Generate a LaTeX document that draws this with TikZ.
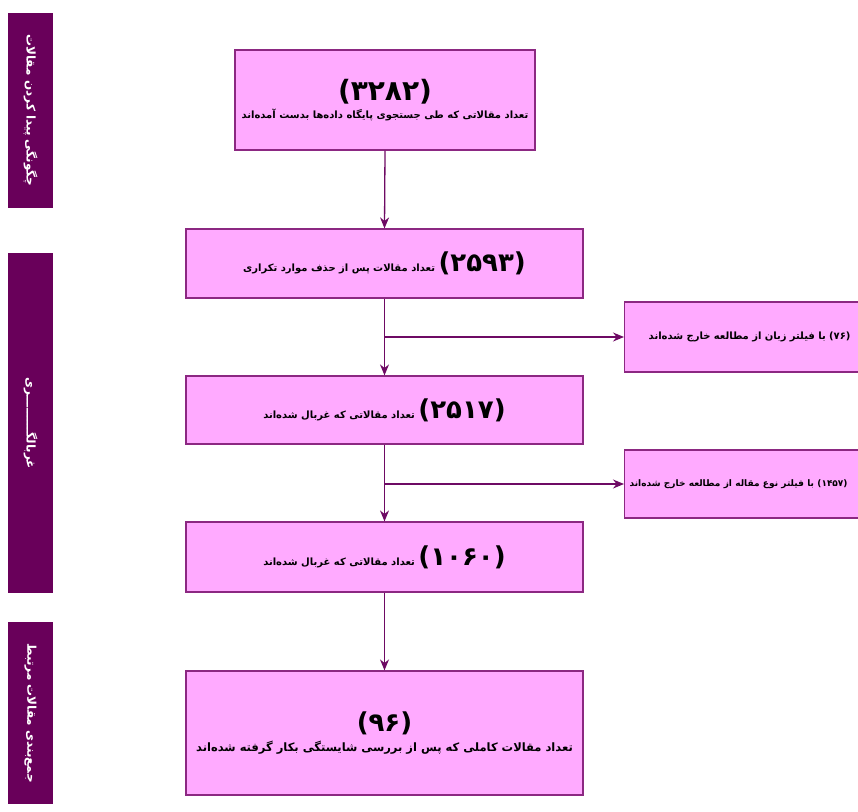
\documentclass[tikz,border=0pt]{standalone}
\usepackage{fontspec}
\usetikzlibrary{arrows.meta}
\TeXXeTstate=1
\newfontfamily\fa[Script=Arabic]{DejaVu Sans}
\definecolor{boxfill}{RGB}{255,170,255}
\definecolor{boxline}{RGB}{140,40,130}
\definecolor{barfill}{RGB}{105,0,90}
\definecolor{arrcol}{RGB}{110,10,100}
\tikzset{
  mainbox/.style={draw=boxline, line width=1.2pt, fill=boxfill, inner sep=2pt, align=center, font=\fa\bfseries},
  sidebar/.style={fill=barfill, draw=none, inner sep=0pt},
  bartext/.style={text=white, font=\fa\bfseries\fontsize{12}{14}\selectfont, rotate=-90, inner sep=0pt},
  arr/.style={draw=arrcol, line width=1.3pt, -{Stealth[length=11pt,width=9pt]}}
}
\begin{document}
\begin{tikzpicture}[x=1pt,y=-1pt]
\useasboundingbox (0,0) rectangle (858,811);
\clip (0,0) rectangle (858,811);
% sidebars
\node[sidebar, minimum width=45pt, minimum height=195pt] (bar1) at (30.5,110.5) {};
\node[bartext] (t1) at (bar1.center) {\beginR چگونگی پیدا کردن مقالات\endR};
\node[sidebar, minimum width=45pt, minimum height=340pt] (bar2) at (30.5,423) {};
\node[bartext] (t2) at (bar2.center) {\beginR غربالگـــــــــری\endR};
\node[sidebar, minimum width=45pt, minimum height=182pt] (bar3) at (30.5,713) {};
\node[bartext] (t3) at (bar3.center) {\beginR جمع‌بندی مقالات مرتبط\endR};
% main boxes
\node[mainbox, minimum width=300pt, minimum height=100pt] (b1) at (385,100)
  {{\fontsize{28}{32}\selectfont\beginR(۳۲۸۲)\endR}\\[4pt]{\fontsize{10}{12}\selectfont\beginR تعداد مقالاتی که طی جستجوی پایگاه داده‌ها بدست آمده‌اند\endR}};
\node[mainbox, minimum width=397pt, minimum height=69pt] (b2) at (384.5,263.5)
  {\beginR{\fontsize{26}{30}\selectfont(۲۵۹۳)} {\fontsize{10}{12}\selectfont تعداد مقالات پس از حذف موارد تکراری}\endR};
\node[mainbox, minimum width=397pt, minimum height=68pt] (b3) at (384.5,410)
  {\beginR{\fontsize{26}{30}\selectfont(۲۵۱۷)} {\fontsize{10}{12}\selectfont تعداد مقالاتی که غربال شده‌اند}\endR};
\node[mainbox, minimum width=397pt, minimum height=70pt] (b4) at (384.5,557)
  {\beginR{\fontsize{26}{30}\selectfont(۱۰۶۰)} {\fontsize{10}{12}\selectfont تعداد مقالاتی که غربال شده‌اند}\endR};
\node[mainbox, minimum width=397pt, minimum height=124pt] (b5) at (384.5,733)
  {{\fontsize{26}{30}\selectfont\beginR(۹۶)\endR}\\[6pt]{\fontsize{11.5}{14}\selectfont\beginR تعداد مقالات کاملی که پس از بررسی شایستگی بکار گرفته شده‌اند\endR}};
% side boxes
\node[mainbox, minimum width=250pt, minimum height=70pt, text width=225pt, anchor=west] (s1) at (624,337)
  {\fontsize{10}{12}\selectfont\beginR(۷۶) با فیلتر زبان از مطالعه خارج شده‌اند\endR};
\node[mainbox, minimum width=250pt, minimum height=68pt, anchor=west, align=left, text width=240pt] (s2) at (624,484)
  {\fontsize{9}{11}\selectfont\beginR(۱۴۵۷) با فیلتر نوع مقاله از مطالعه خارج شده‌اند\endR};
% connectors
\coordinate (j1) at (b2.south |- s1.west);
\coordinate (j2) at (b3.south |- s2.west);
\draw[arr] (b1.south) -- (b2.north);
\draw[arr] (b2.south) -- (b3.north);
\draw[arr] (j1) -- (s1.west);
\draw[arr] (b3.south) -- (b4.north);
\draw[arr] (j2) -- (s2.west);
\draw[arr] (b4.south) -- (b5.north);
\end{tikzpicture}
\end{document}
